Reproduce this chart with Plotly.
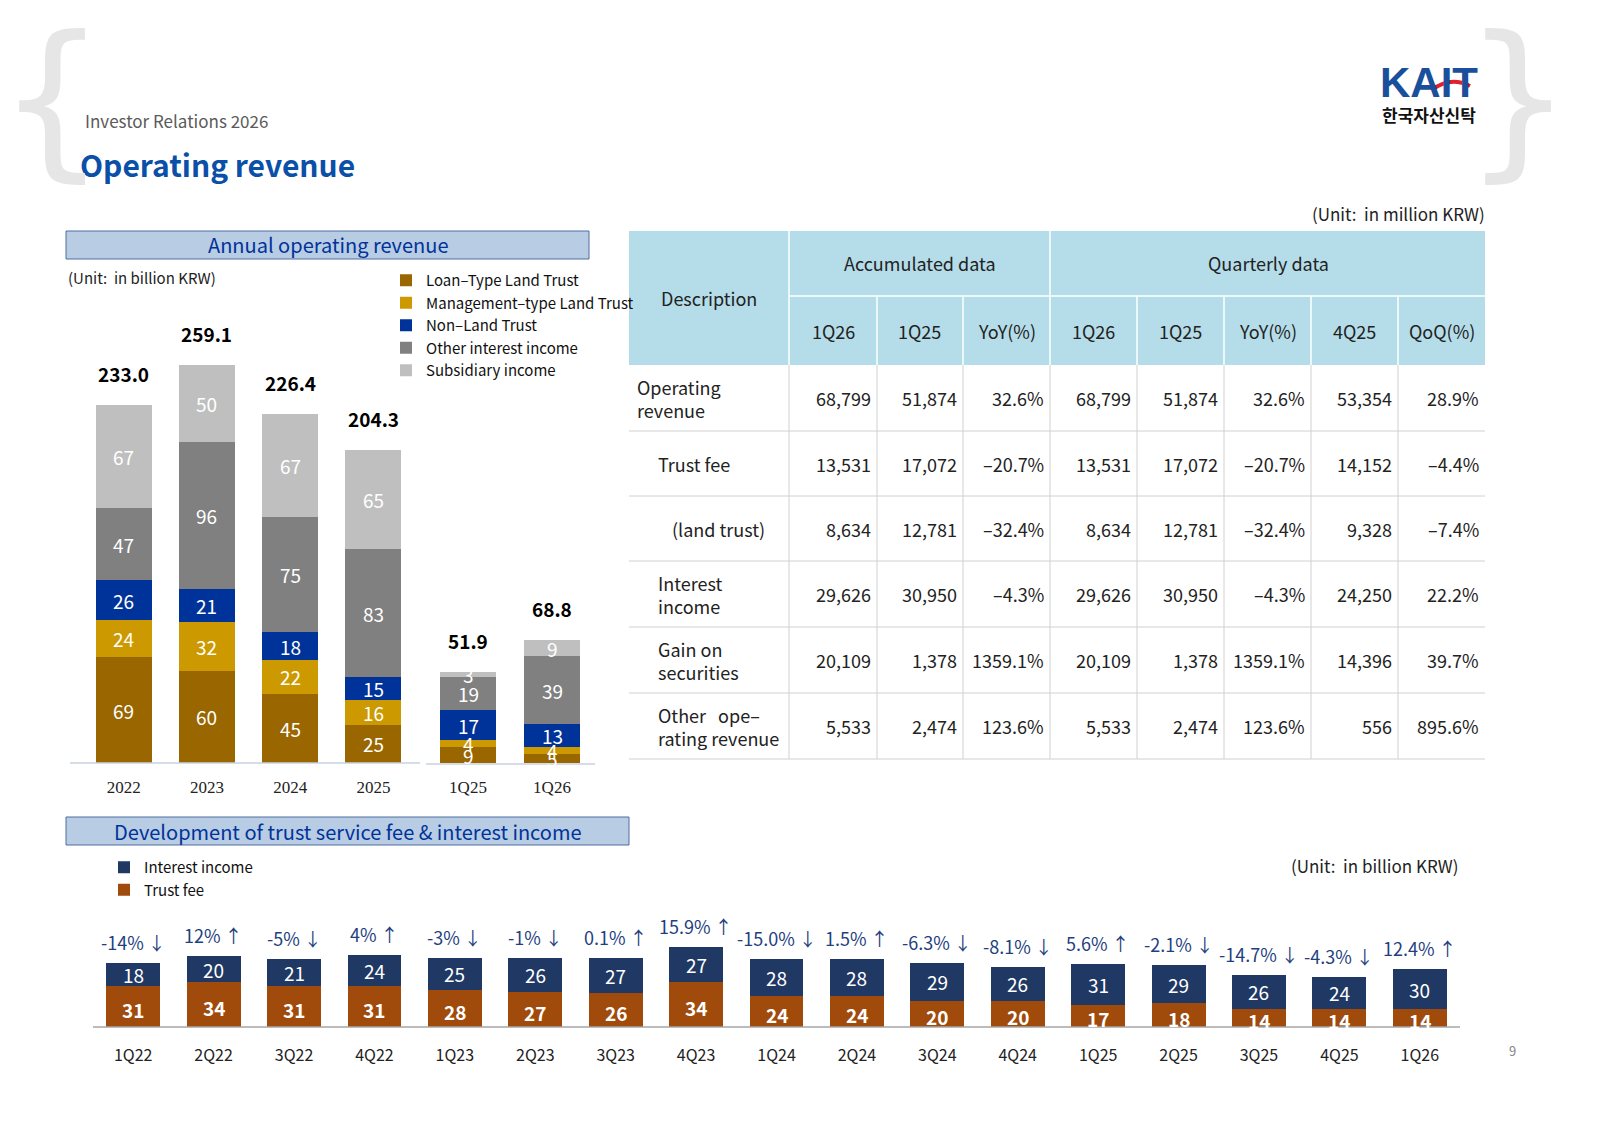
import plotly.graph_objects as go

W, H = 1600, 1132
FONT = "Noto Sans CJK KR"

# annual chart data (billion KRW)
annual_years = ["2022", "2023", "2024", "2025"]
quarter_labels = ["1Q25", "1Q26"]
segments = ["Loan–Type Land Trust", "Management–type Land Trust", "Non–Land Trust",
            "Other interest income", "Subsidiary income"]
seg_colors = ["#996600", "#CC9900", "#003399", "#808080", "#BFBFBF"]
annual_vals = [
    [69, 60, 45, 25],
    [24, 32, 22, 16],
    [26, 21, 18, 15],
    [47, 96, 75, 83],
    [67, 50, 67, 65],
]
quarter_vals = [
    [9, 5],
    [4, 4],
    [17, 13],
    [19, 39],
    [3, 9],
]
annual_totals = ["233.0", "259.1", "226.4", "204.3"]
quarter_totals = ["51.9", "68.8"]

# trust fee & interest income
q_periods = ["1Q22", "2Q22", "3Q22", "4Q22", "1Q23", "2Q23", "3Q23", "4Q23", "1Q24",
             "2Q24", "3Q24", "4Q24", "1Q25", "2Q25", "3Q25", "4Q25", "1Q26"]
trust_fee = [31, 34, 31, 31, 28, 27, 26, 34, 24, 24, 20, 20, 17, 18, 14, 14, 14]
interest_income = [18, 20, 21, 24, 25, 26, 27, 27, 28, 28, 29, 26, 31, 29, 26, 24, 30]
growth = ["-14% ↓", "12% ↑", "-5% ↓", "4% ↑", "-3% ↓", "-1% ↓", "0.1% ↑", "15.9% ↑",
          "-15.0% ↓", "1.5% ↑", "-6.3% ↓", "-8.1% ↓", "5.6% ↑", "-2.1% ↓", "-14.7% ↓",
          "-4.3% ↓", "12.4% ↑"]

# table (million KRW)
tbl_subheads = ["1Q26", "1Q25", "YoY(%)", "1Q26", "1Q25", "YoY(%)", "4Q25", "QoQ(%)"]
tbl_rows = ["Operating<br>revenue", "Trust fee", "(land trust)", "Interest<br>income",
            "Gain on<br>securities", "Other   ope–<br>rating revenue"]
tbl_indent = [6, 27, 41, 27, 27, 27]
tbl_values = [
    ["68,799", "51,874", "32.6%", "68,799", "51,874", "32.6%", "53,354", "28.9%"],
    ["13,531", "17,072", "–20.7%", "13,531", "17,072", "–20.7%", "14,152", "–4.4%"],
    ["8,634", "12,781", "–32.4%", "8,634", "12,781", "–32.4%", "9,328", "–7.4%"],
    ["29,626", "30,950", "–4.3%", "29,626", "30,950", "–4.3%", "24,250", "22.2%"],
    ["20,109", "1,378", "1359.1%", "20,109", "1,378", "1359.1%", "14,396", "39.7%"],
    ["5,533", "2,474", "123.6%", "5,533", "2,474", "123.6%", "556", "895.6%"],
]


def px(x):
    return x / W


def py(y):
    return 1 - y / H


fig = go.Figure()

# annual + quarterly stacked bars
for i, name in enumerate(segments):
    fig.add_trace(go.Bar(x=annual_years, y=annual_vals[i], name=name, marker_color=seg_colors[i],
                         marker_line_width=0, xaxis="x", yaxis="y", legend="legend"))
    fig.add_trace(go.Bar(x=quarter_labels, y=quarter_vals[i], name=name, marker_color=seg_colors[i],
                         marker_line_width=0, xaxis="x2", yaxis="y2", showlegend=False))

annots = []
for cats, vals, totals, xa, ya in [(annual_years, annual_vals, annual_totals, "x", "y"),
                                   (quarter_labels, quarter_vals, quarter_totals, "x2", "y2")]:
    for j in range(len(cats)):
        base = 0
        for i in range(len(segments)):
            v = vals[i][j]
            annots.append(dict(x=j, y=base + v / 2, xref=xa, yref=ya, text=str(v), showarrow=False,
                               font=dict(color="white", size=19, family=FONT)))
            base += v
        annots.append(dict(x=j, y=base, xref=xa, yref=ya, text=f"<b>{totals[j]}</b>", showarrow=False,
                           yanchor="bottom", yshift=16, font=dict(color="black", size=19, family=FONT)))

# trust fee / interest income bars
fig.add_trace(go.Bar(x=q_periods, y=trust_fee, name="Trust fee", marker_color="#A04A0C",
                     marker_line_width=0, xaxis="x3", yaxis="y3", legend="legend2"))
fig.add_trace(go.Bar(x=q_periods, y=interest_income, name="Interest income", marker_color="#1F3864",
                     marker_line_width=0, xaxis="x3", yaxis="y3", legend="legend2"))
for j in range(len(q_periods)):
    annots.append(dict(x=j, y=trust_fee[j] / 2, xref="x3", yref="y3", text=f"<b>{trust_fee[j]}</b>",
                       showarrow=False, yshift=-3, font=dict(color="white", size=19, family=FONT)))
    annots.append(dict(x=j, y=trust_fee[j] + interest_income[j] / 2, xref="x3", yref="y3",
                       text=str(interest_income[j]), showarrow=False,
                       font=dict(color="white", size=19, family=FONT)))
    annots.append(dict(x=j, y=trust_fee[j] + interest_income[j], xref="x3", yref="y3", text=growth[j],
                       showarrow=False, yanchor="bottom", yshift=6,
                       font=dict(color="#1F3F80", size=18, family=FONT)))

shapes = []
# baselines
for x0, x1, y in [(70, 420, 763), (426, 595, 764), (93, 1460, 1027)]:
    shapes.append(dict(type="line", xref="paper", yref="paper", x0=px(x0), x1=px(x1), y0=py(y), y1=py(y),
                       line=dict(color="#C8D2E0" if y < 1000 else "#A6A6A6", width=1.5)))

# section title boxes
for text, x0, x1, y0, y1 in [("Annual operating revenue", 66, 589, 231, 259),
                             ("Development of trust service fee & interest income", 66, 629, 817, 845)]:
    shapes.append(dict(type="rect", xref="paper", yref="paper", x0=px(x0), x1=px(x1), y0=py(y1), y1=py(y0),
                       fillcolor="#B8CCE4", line=dict(color="#4F6FA0", width=1)))
    annots.append(dict(x=px((x0 + x1) / 2), y=py((y0 + y1) / 2), xref="paper", yref="paper", text=text,
                       showarrow=False, font=dict(color="#003399", size=20, family=FONT)))

# table
col_x = [629, 789, 877, 963, 1050, 1137, 1224, 1311, 1398, 1485]
row_y = [365, 431, 496, 561, 627, 693, 759]
HEAD = "#B4DDE9"
shapes.append(dict(type="rect", xref="paper", yref="paper", x0=px(629), x1=px(1485), y0=py(365), y1=py(231),
                   fillcolor=HEAD, line_width=0))
shapes.append(dict(type="line", xref="paper", yref="paper", x0=px(789), x1=px(1485), y0=py(296), y1=py(296),
                   line=dict(color="white", width=1.5)))
for x in col_x[1:-1]:
    top = 231 if x in (789, 1050) else 296
    shapes.append(dict(type="line", xref="paper", yref="paper", x0=px(x), x1=px(x), y0=py(365), y1=py(top),
                       line=dict(color="white", width=1.5)))
    shapes.append(dict(type="line", xref="paper", yref="paper", x0=px(x), x1=px(x), y0=py(759), y1=py(365),
                       line=dict(color="#D0D0D0", width=1)))
for y in row_y[1:]:
    shapes.append(dict(type="line", xref="paper", yref="paper", x0=px(629), x1=px(1485), y0=py(y), y1=py(y),
                       line=dict(color="#D0D0D0", width=1)))

# red swoosh of the logo
shapes.append(dict(type="path", xref="paper", yref="paper",
                   path=f"M {px(1432)},{py(90)} Q {px(1450)},{py(76)} {px(1470)},{py(86)}",
                   line=dict(color="#E0202A", width=4)))

tfont = dict(color="#222222", size=18, family=FONT)
annots.append(dict(x=px(709), y=py(298), xref="paper", yref="paper", text="Description", showarrow=False, font=tfont))
annots.append(dict(x=px(920), y=py(263), xref="paper", yref="paper", text="Accumulated data", showarrow=False, font=tfont))
annots.append(dict(x=px(1268), y=py(263), xref="paper", yref="paper", text="Quarterly data", showarrow=False, font=tfont))
for k, h in enumerate(tbl_subheads):
    annots.append(dict(x=px((col_x[k + 1] + col_x[k + 2]) / 2), y=py(331), xref="paper", yref="paper", text=h,
                       showarrow=False, font=tfont))
for r, label in enumerate(tbl_rows):
    yc = py((row_y[r] + row_y[r + 1]) / 2)
    annots.append(dict(x=px(629 + tbl_indent[r]), y=yc, xref="paper", yref="paper", text=label, align="left",
                       xanchor="left", showarrow=False, font=tfont))
    for k, v in enumerate(tbl_values[r]):
        annots.append(dict(x=px(col_x[k + 2] - 4), y=yc, xref="paper", yref="paper", text=v, xanchor="right",
                           showarrow=False, font=tfont))

# header texts
gray = "#5A5A5A"
page_texts = [
    dict(x=px(83), y=py(121), text="Investor Relations 2026", xanchor="left", font=dict(color=gray, size=17, family=FONT)),
    dict(x=px(78), y=py(164), text="<b>Operating revenue</b>", xanchor="left", font=dict(color="#0A4FA8", size=30, family=FONT)),
    dict(x=px(1487), y=py(213), text="(Unit:  in million KRW)", xanchor="right", font=dict(color="#222", size=17, family=FONT)),
    dict(x=px(66), y=py(278), text="(Unit:  in billion KRW)", xanchor="left", font=dict(color="#222", size=15, family=FONT)),
    dict(x=px(1460), y=py(865), text="(Unit:  in billion KRW)", xanchor="right", font=dict(color="#222", size=17, family=FONT)),
    dict(x=px(1512), y=py(1050), text="9", font=dict(color="#888", size=13, family=FONT)),
    dict(x=px(1429), y=py(83), text="<b>KAIT</b>", font=dict(color="#1A4F9C", size=42, family="Liberation Sans")),
    dict(x=px(1429), y=py(114), text="<b>한국자산신탁</b>", font=dict(color="#111", size=17, family=FONT)),
    dict(x=px(52), y=py(98), text="{", font=dict(color="#E6E6E6", size=170, family="DejaVu Sans")),
    dict(x=px(1518), y=py(98), text="}", font=dict(color="#E6E6E6", size=170, family="DejaVu Sans")),
]
for a in page_texts:
    a.update(xref="paper", yref="paper", showarrow=False)
annots += page_texts
for a in annots:
    a.setdefault("xanchor", "center")
    a.setdefault("yanchor", "middle")

fig.update_layout(
    width=W, height=H, margin=dict(l=0, r=0, t=0, b=0),
    paper_bgcolor="white", plot_bgcolor="white",
    barmode="stack", bargap=0.33,
    font=dict(family=FONT),
    xaxis=dict(domain=[px(82), px(415)], anchor="y", type="category", range=[-0.5, 3.5], showgrid=False,
               ticks="outside", ticklen=9, tickcolor="white",
               tickfont=dict(family="Liberation Serif", size=17, color="#222")),
    yaxis=dict(domain=[py(763), py(363)], range=[0, 260.4], visible=False),
    xaxis2=dict(domain=[px(426), px(594)], anchor="y2", type="category", range=[-0.5, 1.5], showgrid=False,
                ticks="outside", ticklen=9, tickcolor="white",
                tickfont=dict(family="Liberation Serif", size=17, color="#222")),
    yaxis2=dict(domain=[py(763), py(363)], range=[0, 228], visible=False),
    xaxis3=dict(domain=[px(93), px(1460)], anchor="y3", type="category", range=[-0.5, 16.5], showgrid=False,
                ticks="outside", ticklen=14, tickcolor="white", tickfont=dict(size=16, color="#222")),
    yaxis3=dict(domain=[py(1027), py(900)], range=[0, 97], visible=False),
    legend=dict(x=px(386), y=py(264), xanchor="left", yanchor="top", traceorder="normal",
                font=dict(size=15, color="#111"), bgcolor="rgba(0,0,0,0)", itemwidth=30),
    legend2=dict(x=px(104), y=py(851), xanchor="left", yanchor="top", traceorder="reversed",
                 font=dict(size=15, color="#111"), bgcolor="rgba(0,0,0,0)", itemwidth=30),
    shapes=shapes, annotations=annots,
)

fig.write_html("out.html", config={"displayModeBar": False},
               post_script="document.body.style.margin='0';document.body.style.overflow='hidden';")
